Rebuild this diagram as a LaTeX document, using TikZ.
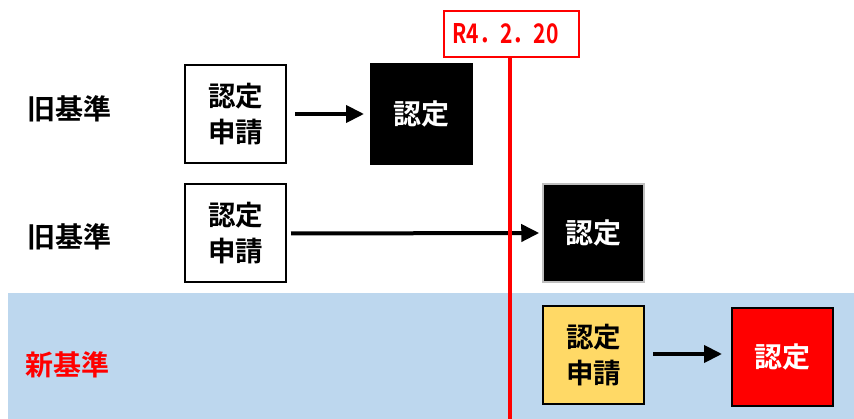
\documentclass[tikz,border=0pt]{standalone}
\usepackage{fontspec}
\newfontfamily\jp{Noto Sans CJK JP Bold}
\newfontfamily\jpnarrow[FakeStretch=0.78]{Noto Sans CJK JP Bold}
\usetikzlibrary{arrows.meta}
\definecolor{bandblue}{HTML}{BDD7EE}
\definecolor{boxyellow}{HTML}{FFD966}
\definecolor{grayedge}{HTML}{BFBFBF}
\tikzset{
  box/.style={minimum width=101pt,minimum height=98pt,inner sep=0pt,line width=2pt,align=center,font=\jp\fontsize{27.5}{36}\selectfont},
  appbox/.style={box,draw=black,fill=white},
  certbox/.style={box,font=\jp\fontsize{28}{30}\selectfont,text=white},
  rowlabel/.style={anchor=west,inner sep=0pt,font=\jp\fontsize{28}{30}\selectfont},
  flow/.style={line width=4pt,-{Triangle[length=18pt,width=17pt]}}
}
\begin{document}
\begin{tikzpicture}[x=1pt,y=-1pt]
\useasboundingbox (0,0) rectangle (854,419);
\fill[bandblue] (8,293) rectangle (854,419);
\node[rowlabel] (l1) at (27,109) {旧基準};
\node[rowlabel] (l2) at (27,237) {旧基準};
\node[rowlabel,text=red] (l3) at (25,365) {新基準};
\node[appbox] (a1) at (235.5,114) {認定\\申請};
\node[certbox,fill=black,draw=black,minimum height=100pt] (b1) at (421.5,114) {認定};
\node[appbox] (a2) at (235.5,233.5) {認定\\申請};
\node[certbox,fill=black,draw=grayedge,line width=1.5pt] (b2) at (593.5,233) {認定};
\node[appbox,fill=boxyellow] (a3) at (593.5,355) {認定\\申請};
\node[certbox,fill=red,draw=black] (b3) at (782.5,357) {認定};
\draw[flow,shorten <=8pt,shorten >=6pt] (a1.east) -- (b1.west);
\draw[flow,shorten <=4pt,shorten >=3pt] (a2.east) -- (b2.west);
\draw[flow,shorten <=8pt,shorten >=9pt] (a3.east |- 354,354) -- (b3.west |- 354,354);
\node[draw=red,fill=white,line width=2pt,minimum width=135pt,minimum height=46pt,inner sep=0pt,text=red,font=\jpnarrow\fontsize{27}{29}\selectfont] (d) at (511.5,34) {R4．2．20\hspace*{12pt}};
\coordinate (bottom) at (510,419);
\draw[red,line width=4pt] (d.south -| bottom) -- (bottom);
\end{tikzpicture}
\end{document}
